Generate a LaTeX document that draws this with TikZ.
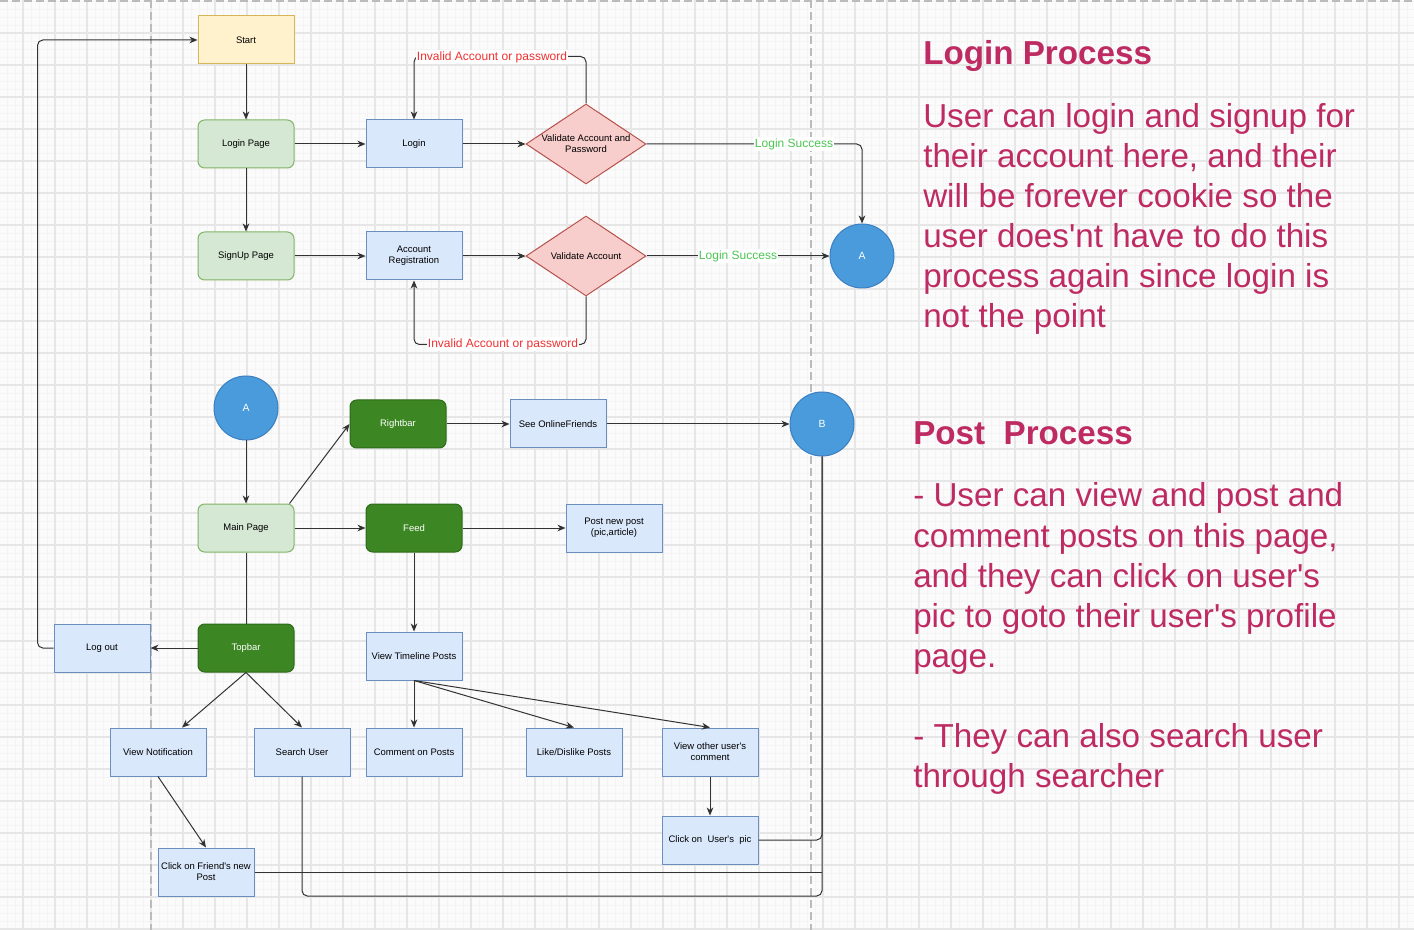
\documentclass[tikz,border=0pt]{standalone}
\usepackage{fontspec}
\setmainfont{Liberation Sans}[Ligatures=TeXOff]
\usetikzlibrary{shapes.geometric,arrows.meta,calc}
\definecolor{bgc}{HTML}{FBFBFB}
\definecolor{minorc}{HTML}{F4F4F4}
\definecolor{majorc}{HTML}{E6E6E6}
\definecolor{dashc}{HTML}{BBBBBB}
\definecolor{yfill}{HTML}{FFF2CC}
\definecolor{yline}{HTML}{D6B656}
\definecolor{gfill}{HTML}{D5E8D4}
\definecolor{gline}{HTML}{82B366}
\definecolor{bfill}{HTML}{DAE8FC}
\definecolor{bline}{HTML}{6C8EBF}
\definecolor{rfill}{HTML}{F8CECC}
\definecolor{rline}{HTML}{B85450}
\definecolor{dgfill}{HTML}{3C8723}
\definecolor{dgline}{HTML}{2D6A1A}
\definecolor{cfill}{HTML}{4A9BDB}
\definecolor{cline}{HTML}{3C7FC0}
\definecolor{lc}{HTML}{333333}
\definecolor{redt}{HTML}{F03030}
\definecolor{greent}{HTML}{4CC552}
\definecolor{sidet}{HTML}{BE2A62}
\newcommand{\nodefont}{\fontsize{7.1pt}{8.3pt}\selectfont}
\newcommand{\lblfont}{\fontsize{9pt}{10pt}\selectfont}
\newcommand{\sidefont}{\fontsize{24.9pt}{30pt}\selectfont}
\begin{document}
\begin{tikzpicture}[x=0.75pt,y=-0.75pt,
  box/.style={draw, line width=0.75pt, minimum width=72pt, minimum height=36pt, inner sep=1pt, align=center, font=\nodefont, text=black},
  ybox/.style={box, fill=yfill, draw=yline},
  bbox/.style={box, fill=bfill, draw=bline},
  gbox/.style={box, fill=gfill, draw=gline, rounded corners=5pt},
  dbox/.style={box, fill=dgfill, draw=dgline, rounded corners=5pt, text=white},
  circ/.style={circle, draw=cline, fill=cfill, line width=0.75pt, minimum size=48pt, inner sep=0pt, text=white, font=\fontsize{7.8pt}{9pt}\selectfont},
  dia/.style={diamond, draw=rline, fill=rfill, line width=0.75pt, minimum width=90pt, minimum height=60pt, inner sep=0pt},
  diatext/.style={align=center, font=\nodefont, inner sep=0pt},
  conn/.style={draw=lc, line width=0.75pt, -{Stealth[length=6pt,width=5pt,inset=1.8pt]}, rounded corners=4pt},
  plain/.style={draw=lc, line width=0.75pt, rounded corners=4pt},
  lbl/.style={fill=white, inner sep=1pt, font=\lblfont},
  side/.style={anchor=base west, inner sep=0pt, text=sidet, font=\sidefont},
  minorl/.style={draw=minorc, line width=0.5pt},
  majorl/.style={draw=majorc, line width=1.3pt},
  dashl/.style={draw=dashc, line width=1.5pt, dash pattern=on 6pt off 3pt}
]
\useasboundingbox (0,0) rectangle (1414,930);
\fill[bgc] (0,0) rectangle (1414,930);
\foreach \x in {7,15,...,1414} \draw[minorl] (\x,0) -- (\x,930);
\foreach \y in {1,9,...,930} \draw[minorl] (0,\y) -- (1414,\y);
\foreach \x in {23,55,...,1414} \draw[majorl] (\x,0) -- (\x,930);
\foreach \y in {33,65,...,930} \draw[majorl] (0,\y) -- (1414,\y);
\draw[dashl] (0,1) -- (1414,1);
\draw[dashl] (151,0) -- (151,930);
\draw[dashl] (811,0) -- (811,930);

% nodes
\node[ybox] (start) at (246,40) {Start};
\node[gbox] (lpage) at (246,144) {Login Page};
\node[gbox] (spage) at (246,256) {SignUp Page};
\node[bbox] (login) at (414,144) {Login};
\node[bbox] (accreg) at (414,256) {Account\\Registration};
\node[dia] (d1) at (586,144) {};
\node[diatext] (d1t) at (586,144) {Validate Account and\\Password};
\node[dia] (d2) at (586,256) {};
\node[diatext] (d2t) at (586,256) {Validate Account};
\node[circ] (A1) at (862,256) {A};
\node[circ] (A2) at (246,408) {A};
\node[dbox] (rightbar) at (398,424) {Rightbar};
\node[bbox] (online) at (558,424) {See OnlineFriends};
\node[circ] (B) at (822,424) {B};
\node[gbox] (main) at (246,528) {Main Page};
\node[dbox] (feed) at (414,528) {Feed};
\node[bbox] (newpost) at (614,528) {Post new post\\(pic,article)};
\node[dbox] (topbar) at (246,648) {Topbar};
\node[bbox] (logout) at (102,648) {Log out};
\node[bbox] (timeline) at (414,656) {View Timeline Posts};
\node[bbox] (notif) at (158,752) {View Notification};
\node[bbox] (search) at (302,752) {Search User};
\node[bbox] (comment) at (414,752) {Comment on Posts};
\node[bbox] (like) at (574,752) {Like/Dislike Posts};
\node[bbox] (other) at (710,752) {View other user's\\comment};
\node[bbox] (upic) at (710,840) {Click on~ User's~ pic};
\node[bbox] (friend) at (206,872) {Click on Friend's new\\Post};

% connectors
\draw[conn] (start) -- (lpage);
\draw[conn] (lpage) -- (spage);
\draw[conn] (lpage) -- (login);
\draw[conn] (spage) -- (accreg);
\draw[conn] (login) -- (d1.west);
\draw[conn] (accreg) -- (d2.west);
\draw[conn] (d1.north) -- ++(0,-47) -| (login.north);
\node[lbl, text=redt] (inv1) at (492,57) {Invalid Account or password};
\draw[conn] (d2.south) -- ++(0,48) -| (accreg.south);
\node[lbl, text=redt] (inv2) at (503,344) {Invalid Account or password};
\draw[conn] (d1.east) -| (A1.north);
\node[lbl, text=greent] (ls1) at (794,144) {Login Success};
\draw[conn] (d2.east) -- (A1);
\node[lbl, text=greent] (ls2) at (738,256) {Login Success};

\draw[conn] (A2) -- (main);
\draw[conn] ($(main.north east)+(-5,0)$) -- (rightbar.west);
\draw[conn] (rightbar) -- (online);
\draw[conn] (online) -- (B);
\draw[conn] (main) -- (feed);
\draw[conn] (feed) -- (newpost);
\draw[conn] (feed) -- (timeline);
\draw[plain] (main) -- (topbar);
\draw[conn] (topbar) -- (logout);
\draw[conn] (logout.west) -- ++(-16,0) |- (start.west);
\draw[conn] (topbar.south) -- ($(notif.north)+(24,0)$);
\draw[conn] (topbar.south) -- (search.north);
\draw[conn] (notif.south) -- (friend.north);
\draw[conn] (timeline.south) -- (comment.north);
\draw[conn] (timeline.south) -- (like.north);
\draw[conn] (timeline.south) -- (other.north);
\draw[conn] (other) -- (upic);
\coordinate (bc) at (822,896);
\draw[plain] (search.south) |- (bc) -- (B.south);
\draw[plain] (upic.east) -| (B.south);
\draw[plain] (friend.east) -- (friend.east -| B.south);

% side texts
\node[side, font=\sidefont\bfseries] (lt) at (923,65) {Login Process};
\node[side] (l1) at (923,128) {User can login and signup for};
\node[side] (l2) at (923,168) {their account here, and their};
\node[side] (l3) at (923,208) {will be forever cookie so the};
\node[side] (l4) at (923,248) {user does'nt have to do this};
\node[side] (l5) at (923,288) {process again since login is};
\node[side] (l6) at (923,328) {not the point};
\node[side, font=\sidefont\bfseries] (pt) at (913,445) {Post~ Process};
\node[side] (p1) at (913,507) {- User can view and post and};
\node[side] (p2) at (913,547) {comment posts on this page,};
\node[side] (p3) at (913,587) {and they can click on user's};
\node[side] (p4) at (913,627) {pic to goto their user's profile};
\node[side] (p5) at (913,667) {page.};
\node[side] (p6) at (913,747) {- They can also search user};
\node[side] (p7) at (913,787) {through searcher};
\end{tikzpicture}
\end{document}
